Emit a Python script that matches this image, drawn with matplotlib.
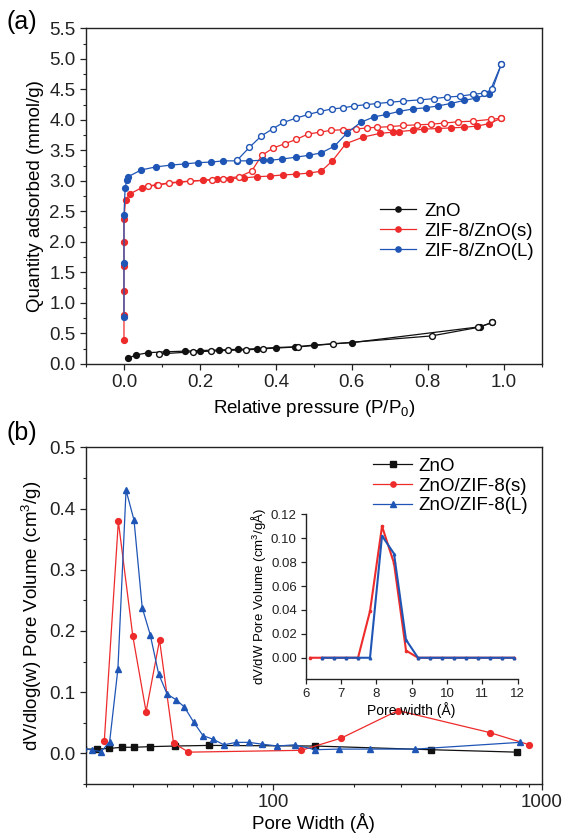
import matplotlib
matplotlib.use("Agg")
import matplotlib.pyplot as plt
from matplotlib.ticker import MultipleLocator, LogLocator, NullFormatter, FixedLocator, FixedFormatter

plt.rcParams['font.family'] = ['Liberation Sans', 'DejaVu Sans']
plt.rcParams['mathtext.fontset'] = 'custom'
plt.rcParams['mathtext.rm'] = 'Liberation Sans'

RED = '#ee2b2b'
BLUE = '#1f55b5'
BLACK = '#111111'

# ---------------- (a) isotherms ----------------
zno_ads_p = [0.0105, 0.031, 0.064, 0.11, 0.16, 0.20, 0.251, 0.30, 0.349, 0.40, 0.45, 0.50, 0.60, 0.937, 0.97]
zno_ads_q = [0.093, 0.147, 0.185, 0.20, 0.21, 0.22, 0.23, 0.24, 0.25, 0.27, 0.28, 0.31, 0.35, 0.61, 0.68]
zno_des_p = [0.97, 0.933, 0.81, 0.55, 0.459, 0.367, 0.32, 0.275, 0.229, 0.182, 0.092]
zno_des_q = [0.68, 0.60, 0.46, 0.33, 0.28, 0.25, 0.23, 0.224, 0.21, 0.20, 0.164]

s_ads_p = [0.0, 0.0, 0.0, 0.0, 0.0, 0.0, 0.004, 0.016, 0.047, 0.086, 0.145, 0.208, 0.246, 0.28, 0.315,
           0.35, 0.384, 0.42, 0.452, 0.488, 0.519, 0.549, 0.584, 0.63, 0.674, 0.708, 0.723, 0.76, 0.79,
           0.827, 0.86, 0.895, 0.93, 0.961, 0.994]
s_ads_q = [0.40, 0.80, 1.20, 1.60, 2.00, 2.38, 2.68, 2.79, 2.89, 2.935, 2.98, 3.01, 3.03, 3.04, 3.05,
           3.07, 3.08, 3.10, 3.11, 3.13, 3.16, 3.33, 3.61, 3.72, 3.78, 3.80, 3.81, 3.83, 3.85,
           3.86, 3.87, 3.88, 3.90, 3.94, 4.03]
s_des_p = [0.994, 0.966, 0.918, 0.88, 0.843, 0.808, 0.772, 0.736, 0.70, 0.667, 0.64, 0.61, 0.578, 0.545,
           0.516, 0.485, 0.453, 0.423, 0.393, 0.363, 0.336, 0.303, 0.26, 0.232, 0.175, 0.118, 0.09, 0.064]
s_des_q = [4.03, 4.01, 3.98, 3.97, 3.95, 3.93, 3.92, 3.91, 3.89, 3.88, 3.87, 3.85, 3.84, 3.83,
           3.80, 3.77, 3.68, 3.61, 3.54, 3.42, 3.16, 3.07, 3.04, 3.02, 3.00, 2.97, 2.94, 2.92]

l_ads_p = [0.0, 0.0, 0.0, 0.003, 0.007, 0.011, 0.045, 0.083, 0.123, 0.161, 0.194, 0.23, 0.262, 0.298,
           0.33, 0.365, 0.384, 0.417, 0.452, 0.486, 0.519, 0.554, 0.588, 0.623, 0.658, 0.691, 0.724,
           0.76, 0.794, 0.827, 0.86, 0.895, 0.928, 0.961, 0.994]
l_ads_q = [0.77, 1.66, 2.44, 2.88, 3.01, 3.07, 3.18, 3.23, 3.26, 3.28, 3.30, 3.31, 3.33, 3.33,
           3.33, 3.34, 3.34, 3.36, 3.39, 3.42, 3.46, 3.57, 3.79, 3.96, 4.05, 4.09, 4.14,
           4.18, 4.20, 4.23, 4.27, 4.32, 4.36, 4.43, 4.92]
l_des_p = [0.994, 0.97, 0.947, 0.918, 0.885, 0.85, 0.816, 0.78, 0.736, 0.70, 0.667, 0.636, 0.606,
           0.578, 0.547, 0.516, 0.485, 0.453, 0.42, 0.393, 0.362, 0.33, 0.298]
l_des_q = [4.92, 4.50, 4.44, 4.42, 4.39, 4.375, 4.35, 4.33, 4.31, 4.29, 4.27, 4.25, 4.23,
           4.20, 4.18, 4.14, 4.09, 4.03, 3.96, 3.86, 3.74, 3.55, 3.34]

labels_a = ['ZnO', 'ZIF-8/ZnO(s)', 'ZIF-8/ZnO(L)']

# ---------------- (b) pore size distribution ----------------
zno_w = [19.5, 21.9, 24.4, 27.2, 30.3, 34.7, 42.9, 57.4, 143, 386, 810]
zno_v = [0.007, 0.007, 0.008, 0.010, 0.010, 0.011, 0.012, 0.013, 0.012, 0.006, 0.002]
s_w = [23.4, 26.4, 29.9, 33.5, 37.6, 42.4, 48.2, 127, 179, 291, 640, 900]
s_v = [0.020, 0.379, 0.191, 0.068, 0.185, 0.017, 0.002, 0.005, 0.025, 0.070, 0.034, 0.014]
l_w = [19.5, 21.1, 22.8, 24.5, 26.3, 28.2, 30.2, 32.4, 34.7, 37.3, 40.1, 43.2, 46.5, 50.4, 54.6,
       59.6, 65.3, 72.6, 81, 90.8, 103.4, 120, 143, 175, 228, 338, 828]
l_v = [0.009, 0.005, 0.003, 0.019, 0.138, 0.430, 0.381, 0.238, 0.194, 0.130, 0.097, 0.088, 0.076,
       0.051, 0.029, 0.023, 0.014, 0.018, 0.018, 0.015, 0.012, 0.014, 0.006, 0.007, 0.007, 0.007, 0.018]
labels_b = ['ZnO', 'ZnO/ZIF-8(s)', 'ZnO/ZIF-8(L)']

# inset
in_s_w = [6.12, 6.46, 6.80, 7.14, 7.48, 7.82, 8.16, 8.50, 8.84, 9.18, 9.52, 9.86, 10.20, 10.54,
          10.88, 11.22, 11.56, 11.90]
in_s_v = [0, 0, 0, 0, 0, 0.039, 0.110, 0.079, 0.006, 0, 0, 0, 0, 0, 0, 0, 0, 0]
in_l_w = [6.46, 6.80, 7.14, 7.48, 7.82, 8.16, 8.50, 8.84, 9.18, 9.52, 9.86, 10.20, 10.54,
          10.88, 11.22, 11.56, 11.90]
in_l_v = [0, 0, 0, 0, 0, 0.102, 0.087, 0.015, 0, 0, 0, 0, 0, 0, 0, 0, 0]

FS = 13.5

fig = plt.figure(figsize=(5.64, 8.35), dpi=100)

def style_axes(ax, fs=FS, major_len=4.5, minor_len=2.5):
    for sp in ax.spines.values():
        sp.set_linewidth(1.0)
        sp.set_color('#222222')
    ax.tick_params(which='major', direction='out', length=major_len, width=0.9, labelsize=fs,
                   colors='#222222', top=False, right=False, pad=3)
    ax.tick_params(which='minor', direction='out', length=minor_len, width=0.8,
                   colors='#222222', top=False, right=False)

# ---- panel (a)
ax1 = fig.add_axes([0.1525, 0.5641, 0.808, 0.4018])
ms = 4.2
lw = 0.9
ax1.plot(zno_ads_p, zno_ads_q, '-o', color=BLACK, lw=lw, ms=ms, mfc=BLACK, mec=BLACK, label=labels_a[0], zorder=3)
ax1.plot(zno_des_p, zno_des_q, '-o', color=BLACK, lw=lw, ms=ms, mfc='white', mec=BLACK, zorder=3)
ax1.plot(s_ads_p, s_ads_q, '-o', color=RED, lw=lw, ms=ms, mfc=RED, mec=RED, label=labels_a[1], zorder=4)
ax1.plot(s_des_p, s_des_q, '-o', color=RED, lw=lw, ms=ms, mfc='white', mec=RED, zorder=4)
ax1.plot(l_ads_p, l_ads_q, '-o', color=BLUE, lw=lw, ms=ms, mfc=BLUE, mec=BLUE, label=labels_a[2], zorder=5)
ax1.plot(l_des_p, l_des_q, '-o', color=BLUE, lw=lw, ms=ms, mfc='white', mec=BLUE, zorder=5)
ax1.set_xlim(-0.1, 1.1)
ax1.set_ylim(0, 5.5)
ax1.xaxis.set_major_locator(FixedLocator([0.0, 0.2, 0.4, 0.6, 0.8, 1.0]))
ax1.xaxis.set_minor_locator(MultipleLocator(0.1))
ax1.yaxis.set_major_locator(MultipleLocator(0.5))
ax1.yaxis.set_minor_locator(MultipleLocator(0.25))
ax1.xaxis.set_major_formatter(matplotlib.ticker.FormatStrFormatter('%.1f'))
ax1.yaxis.set_major_formatter(matplotlib.ticker.FormatStrFormatter('%.1f'))
style_axes(ax1)
ax1.set_xlabel('Relative pressure (P/P$_0$)', fontsize=FS, labelpad=5)
ax1.set_ylabel('Quantity adsorbed (mmol/g)', fontsize=FS, labelpad=4)
leg1 = ax1.legend(loc='center left', bbox_to_anchor=(380 / 564, 1 - 231 / 835),
                  bbox_transform=fig.transFigure, frameon=False, fontsize=FS,
                  handlelength=1.9, handletextpad=0.45, labelspacing=0.15, borderpad=0,
                  borderaxespad=0, markerscale=0.9)

# ---- panel (b)
ax2 = fig.add_axes([0.1525, 0.0611, 0.808, 0.4032])
ax2.plot(zno_w, zno_v, '-s', color=BLACK, lw=lw, ms=4.2, label=labels_b[0], zorder=3)
ax2.plot(s_w, s_v, '-o', color=RED, lw=lw, ms=4.2, label=labels_b[1], zorder=4)
ax2.plot(l_w, l_v, '-^', color=BLUE, lw=lw, ms=4.8, label=labels_b[2], zorder=5)
ax2.set_xscale('log')
ax2.set_xlim(20, 1000)
ax2.set_ylim(-0.05, 0.5)
ax2.xaxis.set_major_locator(FixedLocator([100, 1000]))
ax2.xaxis.set_major_formatter(FixedFormatter(['100', '1000']))
ax2.xaxis.set_minor_locator(LogLocator(base=10, subs=[2, 3, 4, 5, 6, 7, 8, 9]))
ax2.xaxis.set_minor_formatter(NullFormatter())
ax2.yaxis.set_major_locator(FixedLocator([0.0, 0.1, 0.2, 0.3, 0.4, 0.5]))
ax2.yaxis.set_minor_locator(MultipleLocator(0.05))
ax2.yaxis.set_major_formatter(matplotlib.ticker.FormatStrFormatter('%.1f'))
style_axes(ax2)
ax2.set_xlabel('Pore Width (Å)', fontsize=FS, labelpad=1)
ax2.set_ylabel('dV/dlog(w) Pore Volume (cm$^3$/g)', fontsize=FS, labelpad=4)
leg2 = ax2.legend(loc='center left', bbox_to_anchor=(373 / 564, 1 - 486 / 835),
                  bbox_transform=fig.transFigure, frameon=False, fontsize=FS,
                  handlelength=2.1, handletextpad=0.3, labelspacing=0.15, borderpad=0,
                  borderaxespad=0, markerscale=0.9)

# ---- inset
ax3 = fig.add_axes([0.5422, 0.1865, 0.3754, 0.1976])
ax3.plot(in_s_w, in_s_v, '-o', color=RED, lw=1.5, ms=1.6, zorder=3)
ax3.plot(in_l_w, in_l_v, '-^', color=BLUE, lw=1.5, ms=1.8, zorder=4)
ax3.set_xlim(6, 12)
ax3.set_ylim(-0.018, 0.12)
ax3.spines['top'].set_visible(False)
ax3.spines['right'].set_visible(False)
ax3.xaxis.set_major_locator(MultipleLocator(1))
ax3.yaxis.set_major_locator(FixedLocator([0.0, 0.02, 0.04, 0.06, 0.08, 0.10, 0.12]))
ax3.yaxis.set_major_formatter(matplotlib.ticker.FormatStrFormatter('%.2f'))
style_axes(ax3, fs=9.5, major_len=3.5)
ax3.set_xlabel('Pore width (Å)', fontsize=10, labelpad=1)
ax3.set_ylabel('dV/dW Pore Volume (cm$^3$/gÅ)', fontsize=9.5, labelpad=2)

fig.text(7 / 564, 1 - 22 / 835, '(a)', fontsize=18, va='center', ha='left')
fig.text(7 / 564, 1 - 433 / 835, '(b)', fontsize=18, va='center', ha='left')

fig.savefig('out.png', dpi=100)
